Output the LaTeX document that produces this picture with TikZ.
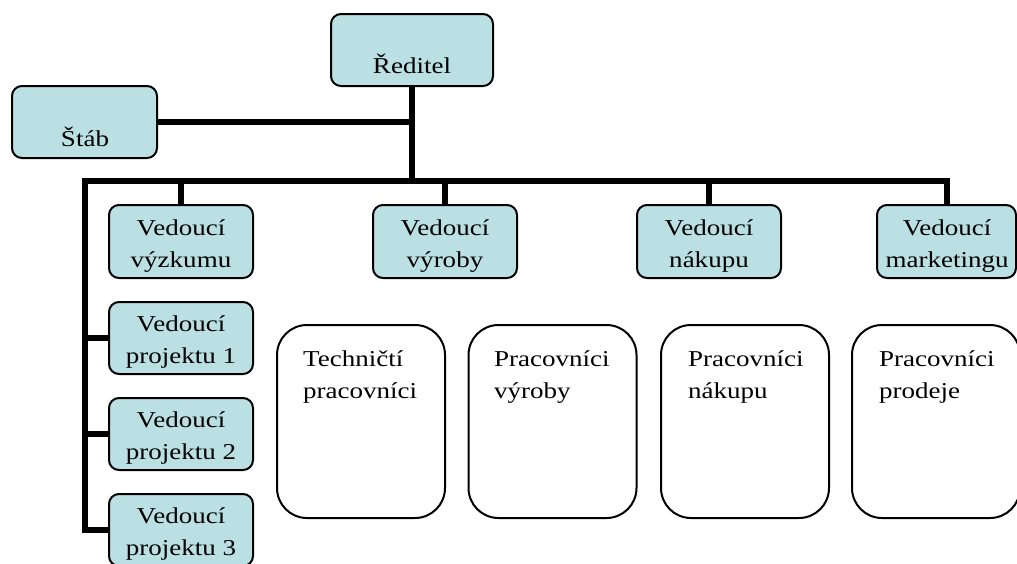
\documentclass[tikz,border=0pt]{standalone}
\usepackage{fontspec}
\setmainfont{Liberation Serif}[FakeStretch=1.19]
\definecolor{boxteal}{RGB}{187,224,227}
\begin{document}
\begin{tikzpicture}[x=1pt,y=-1pt,
  lead/.style={draw=black, line width=2pt, fill=boxteal, rounded corners=10pt,
    minimum width=144pt, minimum height=73pt, inner sep=0pt},
  staff/.style={draw=black, line width=2pt, rounded corners=30pt,
    minimum width=168pt, minimum height=193pt, inner sep=0pt},
  txt/.style={font=\fontsize{22.7}{31.6}\selectfont, inner sep=0pt, align=center},
  conn/.style={line width=6pt, line join=miter}]
\clip (0,0) rectangle (1017,563);

% top level
\node[lead, minimum width=162pt, minimum height=72pt] (red) at (412,50) {};
\node[txt, anchor=base] (red-t) at (412,73) {Ředitel};
\node[lead, minimum width=145pt, minimum height=72pt] (stab) at (84.5,122) {};
\node[txt, anchor=base] (stab-t) at (85,146) {Štáb};

% department heads (base anchor sits on the last line)
\node[lead] (vyz) at (181,241.5) {};
\node[lead] (vyr) at (445,241.5) {};
\node[lead] (nak) at (709,241.5) {};
\node[lead, minimum width=139pt] (mkt) at (946.5,241.5) {};
\node[txt, anchor=base] (vyz-t) at (181,267) {Vedoucí\\výzkumu};
\node[txt, anchor=base] (vyr-t) at (445,267) {Vedoucí\\výroby};
\node[txt, anchor=base] (nak-t) at (709,267) {Vedoucí\\nákupu};
\node[txt, anchor=base] (mkt-t) at (947,267) {Vedoucí\\marketingu};

% project leaders
\node[lead, minimum height=72pt] (p1) at (181,338) {};
\node[lead, minimum height=72pt] (p2) at (181,434) {};
\node[lead, minimum height=72pt] (p3) at (181,530) {};
\node[txt, anchor=base] (p1-t) at (181,363) {Vedoucí\\projektu 1};
\node[txt, anchor=base] (p2-t) at (181,459) {Vedoucí\\projektu 2};
\node[txt, anchor=base] (p3-t) at (181,555) {Vedoucí\\projektu 3};

% staff groups
\node[staff] (tech) at (361,421.5) {};
\node[staff] (prv) at (552.5,421.5) {};
\node[staff] (prn) at (745,421.5) {};
\node[staff] (prp) at (936,421.5) {};
\node[txt, align=left, anchor=base west] (tech-t) at (303,398.3) {Techničtí\\pracovníci};
\node[txt, align=left, anchor=base west] (prv-t) at (494,398.3) {Pracovníci\\výroby};
\node[txt, align=left, anchor=base west] (prn-t) at (688,398.3) {Pracovníci\\nákupu};
\node[txt, align=left, anchor=base west] (prp-t) at (879,398.3) {Pracovníci\\prodeje};

% connectors
\coordinate (busL) at (84.5,181);
\draw[conn] (red.south) -- (red.south |- busL);
\draw[conn] (stab.east) -- (stab.east -| red.south);
\draw[conn] (mkt.north) |- (busL) |- (p3.west);
\draw[conn] (vyz.north) -- (vyz.north |- busL);
\draw[conn] (vyr.north) -- (vyr.north |- busL);
\draw[conn] (nak.north) -- (nak.north |- busL);
\draw[conn] (p1.west -| busL) -- (p1.west);
\draw[conn] (p2.west -| busL) -- (p2.west);
\end{tikzpicture}
\end{document}
